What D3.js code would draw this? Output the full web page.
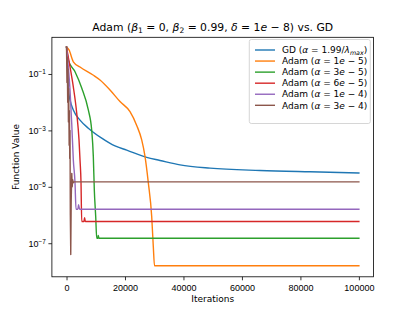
<!DOCTYPE html>
<html>
<head>
<meta charset="utf-8">
<script src="https://cdn.jsdelivr.net/npm/d3@7"></script>
<style>
  body { margin: 0; background: #fff; }
  svg { font-family: "DejaVu Sans", sans-serif; }
  .tick text { font-size: 9px; fill: #000; }
</style>
</head>
<body>
<svg class="chart" width="415" height="311"></svg>
<script>
// series: [iteration, function value]
const gdData = [[0, 0.9], [340, 0.14], [616, 0.027], [1197, 0.012], [2326, 0.0053], [4617, 0.0023],
  [7456, 0.0012], [12038, 5.3e-4], [16587, 2.8e-4], [20588, 2.0e-4], [27428, 1.1e-4], [31977, 8.6e-5],
  [38817, 6.0e-5], [49077, 4.6e-5], [66176, 3.8e-5], [83276, 3.4e-5], [100000, 3.1e-5]];
const adam1e5 = [[0, 0.9], [855, 0.71], [2326, 0.27], [4617, 0.177], [9063, 0.092], [11457, 0.061],
  [14877, 0.027], [18297, 0.0105], [21717, 0.0046], [24008, 0.0015], [25718, 4.6e-4], [26847, 1.2e-4],
  [27975, 1.4e-5], [29138, 8.8e-7], [29685, 7.6e-8], [30096, 1.6e-8], [100000, 1.6e-8]];
const adam3e5 = [[0, 0.9], [616, 0.31], [2907, 0.12], [5198, 0.032], [7456, 0.0053], [8618, 1.0e-3],
  [9166, 1.2e-4], [9508, 7.7e-6], [9986, 8.7e-7], [10328, 1.5e-7], [10700, 1.5e-7], [10850, 1.9e-7],
  [11100, 1.5e-7], [100000, 1.5e-7]];
const adam6e5 = [[0, 0.9], [1197, 0.18], [2326, 0.035], [3488, 0.0041], [4275, 4.6e-4], [4617, 8.9e-5],
  [4959, 1.4e-5], [5198, 5.9e-7], [6000, 5.9e-7], [6156, 8e-7], [6450, 5.9e-7], [100000, 5.9e-7]];
const adam1e4 = [[0, 0.9], [410, 0.32], [1197, 0.027], [1778, 0.0018], [2326, 9e-5], [2907, 1.4e-5],
  [3249, 1.6e-6], [3900, 1.6e-6], [4104, 2.3e-6], [4500, 1.6e-6], [100000, 1.6e-6]];
const adam3e4 = [[0, 0.9], [150, 0.05], [250, 0.4], [400, 0.01], [500, 0.15], [650, 0.002], [750, 0.03],
  [900, 3e-4], [1000, 0.005], [1100, 1e-4], [1200, 0.001], [1300, 1e-6], [1450, 4e-8], [1600, 3e-6],
  [1800, 3e-5], [1950, 1e-5], [2100, 1.8e-5], [2300, 1.4e-5], [2600, 1.5e-5], [100000, 1.5e-5]];

const seriesNames = ["gd", "1e-5", "3e-5", "6e-5", "1e-4", "3e-4"];
const seriesData = [gdData, adam1e5, adam3e5, adam6e5, adam1e4, adam3e4];
const colors = ["#1f77b4", "#ff7f0e", "#2ca02c", "#d62728", "#9467bd", "#8c564b"];

const xTicks = [0, 20000, 40000, 60000, 80000, 100000];
const yTicks = [1e-7, 1e-5, 1e-3, 1e-1];
const yExp = { "1e-7": "\u22127", "0.00001": "\u22125", "0.001": "\u22123", "0.1": "\u22121" };

const svg = d3.select("svg.chart");
const plotL = 51.9, plotR = 373.5, plotT = 37.3, plotB = 276.8;

const x = d3.scaleLinear().domain([-5000, 105000]).range([plotL, plotR]);
const y = d3.scaleLog().domain([Math.pow(10, -8.19), Math.pow(10, 0.30)]).range([plotB, plotT]);

svg.append("clipPath").attr("id", "clip")
  .append("rect").attr("x", plotL).attr("y", plotT).attr("width", plotR - plotL).attr("height", plotB - plotT);

//* lines (the oscillating brown one stays piecewise linear)
const smooth = d3.line().curve(d3.curveMonotoneX).x((d) => x(d[0])).y((d) => y(d[1]));
const jagged = d3.line().x((d) => x(d[0])).y((d) => y(d[1]));
svg.append("g").attr("clip-path", "url(#clip)")
  .selectAll("path")
  .data(seriesData)
  .enter()
  .append("path")
  .attr("d", (d, i) => (i === 5 ? jagged(d) : smooth(d)))
  .attr("fill", "none")
  .attr("stroke", (_, i) => colors[i])
  .attr("stroke-width", 1.4)
  .attr("stroke-linejoin", "round")
  .attr("stroke-linecap", "square");

//* axes
const xAxis = svg.append("g")
  .attr("transform", `translate(0,${plotB})`)
  .call(d3.axisBottom(x).tickValues(xTicks).tickFormat(d3.format("d")).tickSize(3.5).tickSizeOuter(0));
xAxis.select(".domain").remove();
xAxis.selectAll(".tick line").attr("stroke-width", 0.8);
xAxis.selectAll(".tick text").attr("y", 7.5).attr("dy", "0.71em");

const yAxis = svg.append("g")
  .attr("transform", `translate(${plotL},0)`)
  .call(d3.axisLeft(y).tickValues(yTicks).tickFormat("").tickSize(3.5).tickSizeOuter(0));
yAxis.select(".domain").remove();
yAxis.selectAll(".tick line").attr("stroke-width", 0.8);
yAxis.selectAll(".tick text").remove();
yAxis.selectAll(".tick").append("text")
  .attr("x", -6).attr("dy", "0.32em")
  .attr("text-anchor", "end")
  .each(function (d) {
    const t = d3.select(this);
    t.append("tspan").text("10");
    t.append("tspan").attr("dy", "-0.45em").attr("font-size", "6.4px").text(yExp[String(d)]);
  });

//* spines
svg.append("rect")
  .attr("x", plotL).attr("y", plotT).attr("width", plotR - plotL).attr("height", plotB - plotT)
  .attr("fill", "none").attr("stroke", "#000").attr("stroke-width", 0.8);

//* labels
svg.append("text").attr("x", (plotL + plotR) / 2).attr("y", 301.5)
  .attr("text-anchor", "middle").attr("font-size", "9px").text("Iterations");
svg.append("text").attr("transform", "translate(19.3,157) rotate(-90)")
  .attr("text-anchor", "middle").attr("font-size", "9px").text("Function Value");

// mathtext-like pieces: [text, italic, shift]
function richText(sel, parts) {
  parts.forEach((p) => {
    const ts = sel.append("tspan").text(p[0]);
    if (p[1]) ts.attr("font-style", "italic");
    if (p[2] === "sub") ts.attr("baseline-shift", "-25%").attr("font-size", "0.7em");
  });
}

const title = svg.append("text").attr("x", (plotL + plotR) / 2).attr("y", 30.5)
  .attr("text-anchor", "middle").attr("font-size", "10.8px");
richText(title, [["Adam ("], ["\u03b2", true], ["1", false, "sub"], [" = 0, "], ["\u03b2", true],
  ["2", false, "sub"], [" = 0.99, "], ["\u03b4", true], [" = 1"], ["e", true], [" \u2212 8) vs. GD"]]);

//* legend
const legendLabels = [
  [["GD ("], ["\u03b1", true], [" = 1.99/"], ["\u03bb", true], ["max", true, "sub"], [")"]],
  [["Adam ("], ["\u03b1", true], [" = 1"], ["e", true], [" \u2212 5)"]],
  [["Adam ("], ["\u03b1", true], [" = 3"], ["e", true], [" \u2212 5)"]],
  [["Adam ("], ["\u03b1", true], [" = 6"], ["e", true], [" \u2212 5)"]],
  [["Adam ("], ["\u03b1", true], [" = 1"], ["e", true], [" \u2212 4)"]],
  [["Adam ("], ["\u03b1", true], [" = 3"], ["e", true], [" \u2212 4)"]]
];
const legend = svg.append("g");
legend.append("rect")
  .attr("x", 249.3).attr("y", 39.5).attr("width", 121).attr("height", 84)
  .attr("rx", 2).attr("fill", "#fff").attr("fill-opacity", 0.8)
  .attr("stroke", "#cccccc").attr("stroke-width", 0.8);
const items = legend.selectAll("g.item")
  .data(seriesNames)
  .enter()
  .append("g")
  .attr("class", "item")
  .attr("transform", (_, i) => `translate(0, ${50 + i * 11.06})`);
items.append("line")
  .attr("x1", 255).attr("x2", 275).attr("y1", 0).attr("y2", 0)
  .attr("stroke", (_, i) => colors[i]).attr("stroke-width", 1.4);
items.append("text")
  .attr("x", 282).attr("y", 3.2).attr("font-size", "9px")
  .each(function (_, i) { richText(d3.select(this), legendLabels[i]); });
</script>
</body>
</html>
